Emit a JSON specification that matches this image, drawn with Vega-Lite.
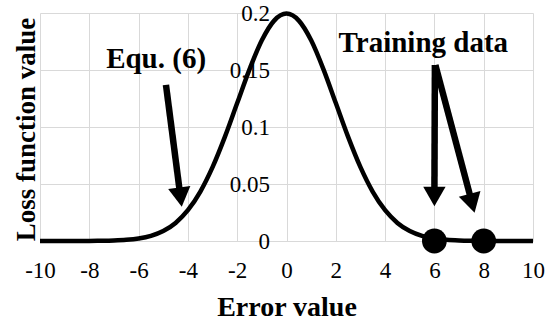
{
  "$schema": "https://vega.github.io/schema/vega-lite/v6.json",
  "width": 493,
  "height": 228,
  "autosize": {"type": "none"},
  "padding": {"left": 40, "top": 13, "right": 13, "bottom": 81},
  "config": {"view": {"stroke": null}, "font": "Liberation Serif", "axis": {"labelFont": "Liberation Serif", "titleFont": "Liberation Serif"}},
  "datasets": {
    "curve": [
      {"error": -10, "loss": 0}, {"error": -9.5, "loss": 0.000003}, {"error": -9, "loss": 0.000008},
      {"error": -8.5, "loss": 0.000024}, {"error": -8, "loss": 0.000067}, {"error": -7.5, "loss": 0.000176},
      {"error": -7, "loss": 0.00044}, {"error": -6.5, "loss": 0.00102}, {"error": -6, "loss": 0.00222},
      {"error": -5.5, "loss": 0.00455}, {"error": -5, "loss": 0.00876}, {"error": -4.5, "loss": 0.01587},
      {"error": -4, "loss": 0.027}, {"error": -3.5, "loss": 0.04314}, {"error": -3, "loss": 0.06476},
      {"error": -2.5, "loss": 0.09132}, {"error": -2, "loss": 0.12099}, {"error": -1.5, "loss": 0.15057},
      {"error": -1, "loss": 0.17603}, {"error": -0.5, "loss": 0.19333}, {"error": 0, "loss": 0.19947},
      {"error": 0.5, "loss": 0.19333}, {"error": 1, "loss": 0.17603}, {"error": 1.5, "loss": 0.15057},
      {"error": 2, "loss": 0.12099}, {"error": 2.5, "loss": 0.09132}, {"error": 3, "loss": 0.06476},
      {"error": 3.5, "loss": 0.04314}, {"error": 4, "loss": 0.027}, {"error": 4.5, "loss": 0.01587},
      {"error": 5, "loss": 0.00876}, {"error": 5.5, "loss": 0.00455}, {"error": 6, "loss": 0.00222},
      {"error": 6.5, "loss": 0.00102}, {"error": 7, "loss": 0.00044}, {"error": 7.5, "loss": 0.000176},
      {"error": 8, "loss": 0.000067}, {"error": 8.5, "loss": 0.000024}, {"error": 9, "loss": 0.000008},
      {"error": 9.5, "loss": 0.000003}, {"error": 10, "loss": 0}
    ],
    "training": [
      {"error": 6, "loss": 0},
      {"error": 8, "loss": 0}
    ],
    "arrows": [
      {"arrow": "equ", "x": -4.89, "y": 0.137, "hx": -4.3, "hy": 0.0385},
      {"arrow": "t1", "x": 6.02, "y": 0.1544, "hx": 6.0, "hy": 0.039},
      {"arrow": "t2", "x": 6.04, "y": 0.1544, "hx": 7.53, "hy": 0.0331}
    ],
    "notes": [
      {"label": "Equ. (6)", "x": -5.29, "y": 0.1515},
      {"label": "Training data", "x": 5.55, "y": 0.166}
    ]
  },
  "layer": [
    {
      "data": {"name": "curve"},
      "mark": {"type": "line", "color": "black", "strokeWidth": 4.5, "interpolate": "monotone"},
      "encoding": {
        "x": {
          "field": "error", "type": "quantitative",
          "scale": {"domain": [-10, 10], "nice": false, "zero": false},
          "axis": {
            "values": [-10, -8, -6, -4, -2, 0, 2, 4, 6, 8, 10],
            "grid": true, "gridColor": "#d9d9d9", "gridWidth": 1,
            "domain": false, "ticks": false, "tickSize": 0,
            "labelFont": "Liberation Serif",
            "labelFontSize": 23, "labelColor": "black", "labelPadding": 18,
            "labelFlush": false, "labelOverlap": false,
            "labelExpr": "'' + datum.value",
            "title": "Error value", "titleFont": "Liberation Serif", "titleFontSize": 28, "titleFontWeight": "bold",
            "titleColor": "black", "titleY": 74, "titleBaseline": "alphabetic"
          }
        },
        "y": {
          "field": "loss", "type": "quantitative",
          "scale": {"domain": [0, 0.2], "nice": false},
          "axis": {
            "orient": "left", "offset": -246.5,
            "values": [0, 0.05, 0.1, 0.15, 0.2],
            "grid": true, "gridColor": "#d9d9d9", "gridWidth": 1,
            "domain": false, "ticks": false, "tickSize": 0,
            "labelFont": "Liberation Serif",
            "labelFontSize": 23, "labelColor": "black", "labelPadding": 17,
            "labelFlush": false, "labelOverlap": false,
            "labelExpr": "'' + datum.value",
            "title": "Loss function value", "titleFont": "Liberation Serif", "titleFontSize": 27, "titleFontWeight": "bold",
            "titleColor": "black", "titleX": -252.5, "titleY": 116,
            "titleAngle": -90, "titleAlign": "center", "titleBaseline": "alphabetic"
          }
        }
      }
    },
    {
      "data": {"name": "training"},
      "mark": {"type": "point", "shape": "circle", "filled": true, "color": "black", "opacity": 1, "size": 615},
      "encoding": {
        "x": {"field": "error", "type": "quantitative"},
        "y": {"field": "loss", "type": "quantitative"}
      }
    },
    {
      "data": {"name": "arrows"},
      "mark": {"type": "rule", "color": "black", "strokeWidth": 6.5},
      "encoding": {
        "x": {"field": "x", "type": "quantitative"},
        "y": {"field": "y", "type": "quantitative"},
        "x2": {"field": "hx"},
        "y2": {"field": "hy"}
      }
    },
    {
      "data": {"name": "arrows"},
      "transform": [{"filter": "datum.arrow === 'equ'"}],
      "mark": {"type": "point", "shape": "triangle-down", "filled": true, "color": "black", "opacity": 1, "size": 500, "angle": 352.6},
      "encoding": {
        "x": {"field": "hx", "type": "quantitative"},
        "y": {"field": "hy", "type": "quantitative"}
      }
    },
    {
      "data": {"name": "arrows"},
      "transform": [{"filter": "datum.arrow === 't1'"}],
      "mark": {"type": "point", "shape": "triangle-down", "filled": true, "color": "black", "opacity": 1, "size": 500, "angle": 0},
      "encoding": {
        "x": {"field": "hx", "type": "quantitative"},
        "y": {"field": "hy", "type": "quantitative"}
      }
    },
    {
      "data": {"name": "arrows"},
      "transform": [{"filter": "datum.arrow === 't2'"}],
      "mark": {"type": "point", "shape": "triangle-down", "filled": true, "color": "black", "opacity": 1, "size": 500, "angle": 345.2},
      "encoding": {
        "x": {"field": "hx", "type": "quantitative"},
        "y": {"field": "hy", "type": "quantitative"}
      }
    },
    {
      "data": {"name": "notes"},
      "mark": {"type": "text", "fontSize": 29, "fontWeight": "bold", "color": "black", "align": "center", "baseline": "alphabetic", "font": "Liberation Serif"},
      "encoding": {
        "x": {"field": "x", "type": "quantitative"},
        "y": {"field": "y", "type": "quantitative"},
        "text": {"field": "label"}
      }
    }
  ]
}
